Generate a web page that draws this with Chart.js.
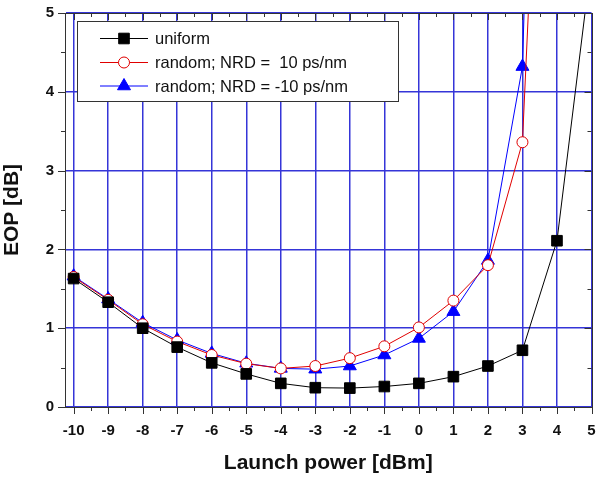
<!DOCTYPE html>
<html>
<head>
<meta charset="utf-8">
<script src="https://cdn.jsdelivr.net/npm/chart.js@4.4.1/dist/chart.umd.min.js"></script>
<style>
html,body{margin:0;padding:0;background:#fff;}
#wrap{position:relative;width:600px;height:482px;}
</style>
</head>
<body>
<div id="wrap"><canvas id="c"></canvas></div>
<script>
// ---- data ----
const launchPower = [-10,-9,-8,-7,-6,-5,-4,-3,-2,-1,0,1,2,3,4,5];
const uniformEOP  = [1.63,1.33,1.00,0.76,0.56,0.42,0.30,0.245,0.24,0.26,0.30,0.385,0.52,0.72,2.11,5.67];
const randomPosEOP = [1.65,1.36,1.05,0.83,0.66,0.55,0.49,0.52,0.62,0.77,1.01,1.35,1.80,3.36,13,null];
const randomNegEOP = [1.66,1.37,1.07,0.85,0.68,0.555,0.49,0.48,0.52,0.66,0.87,1.21,1.86,4.32,19,null];
const seriesLabels = ['uniform','random; NRD =  10 ps/nm','random; NRD = -10 ps/nm'];
const xTickValues = [-10,-9,-8,-7,-6,-5,-4,-3,-2,-1,0,1,2,3,4,5];
const yTickValues = [0,1,2,3,4,5];
const xTitle = 'Launch power [dBm]';
const yTitle = 'EOP [dB]';

const FONT = '"Liberation Sans", Arial, sans-serif';
const GRID = '#3535d8';
const FRAME = '#333333';

function pts(arr){ return launchPower.map((x,i)=>({x:x,y:arr[i]})); }

const framePlugin = {
  id:'frame',
  afterDatasetsDraw(chart){
    const {ctx, chartArea:a, scales:{x,y}} = chart;
    ctx.save();
    ctx.strokeStyle = FRAME; ctx.lineWidth = 1;
    ctx.beginPath();
    for (let i=0;i<xTickValues.length;i++){
      const v = xTickValues[i];
      const vals = [v]; if (i < xTickValues.length-1) vals.push((v + xTickValues[i+1])/2);
      vals.forEach((t,k)=>{
        const px = Math.round(x.getPixelForValue(t))+0.5;
        const len = k===0 ? 7 : 4;
        ctx.moveTo(px, a.bottom); ctx.lineTo(px, a.bottom+len);
        ctx.moveTo(px, a.top); ctx.lineTo(px, a.top+len);
      });
    }
    for (let i=0;i<yTickValues.length;i++){
      const v = yTickValues[i];
      const vals = [v]; if (i < yTickValues.length-1) vals.push((v + yTickValues[i+1])/2);
      vals.forEach((t,k)=>{
        const py = Math.round(y.getPixelForValue(t))+0.5;
        const len = k===0 ? 7 : 4;
        ctx.moveTo(a.left, py); ctx.lineTo(a.left-len, py);
        ctx.moveTo(a.right, py); ctx.lineTo(a.right-len, py);
      });
    }
    ctx.stroke();
    ctx.strokeRect(Math.round(a.left)+0.5, Math.round(a.top)+0.5, Math.round(a.right-a.left), Math.round(a.bottom-a.top));
    // legend
    const bx = 77.5, by = 21.5, bw = 321, bh = 80;
    ctx.fillStyle = '#fff';
    ctx.fillRect(bx, by, bw, bh);
    ctx.strokeStyle = FRAME;
    ctx.strokeRect(bx, by, bw, bh);
    const rows = [38.5, 62.5, 86];
    chart.data.datasets.forEach((ds,i)=>{
      const ry = rows[i];
      ctx.strokeStyle = ds.borderColor; ctx.lineWidth = 1;
      ctx.beginPath(); ctx.moveTo(100, ry); ctx.lineTo(148, ry); ctx.stroke();
      ctx.fillStyle = ds.pointBackgroundColor; ctx.strokeStyle = ds.pointBorderColor;
      Chart.helpers.drawPoint(ctx, {pointStyle: ds.pointStyle, radius: ds.pointRadius, rotation:0, borderWidth: 1}, 124, ry);
      ctx.fillStyle = '#111';
      ctx.font = '16.5px ' + FONT;
      ctx.textBaseline = 'middle'; ctx.textAlign = 'left';
      ctx.fillText(ds.label, 155, ry+1);
    });
    ctx.restore();
  }
};

new Chart(document.getElementById('c'), {
  type:'line',
  data:{
    datasets:[
      {label:seriesLabels[0], data:pts(uniformEOP), borderColor:'#000', borderWidth:1,
       pointStyle:'rect', pointRadius:7.5, pointBackgroundColor:'#000', pointBorderColor:'#000', pointBorderWidth:1},
      {label:seriesLabels[1], data:pts(randomPosEOP), borderColor:'#e00000', borderWidth:1,
       pointStyle:'circle', pointRadius:5.5, pointBackgroundColor:'#fff', pointBorderColor:'#e00000', pointBorderWidth:1},
      {label:seriesLabels[2], data:pts(randomNegEOP), borderColor:'#0000ff', borderWidth:1,
       pointStyle:'triangle', pointRadius:7.5, pointBackgroundColor:'#0000ff', pointBorderColor:'#0000ff', pointBorderWidth:1}
    ]
  },
  options:{
    responsive:true, maintainAspectRatio:false, animation:false,
    layout:{padding:{top:13, right:5, left:0, bottom:0}},
    plugins:{legend:{display:false}, tooltip:{enabled:false}},
    elements:{line:{tension:0}},
    scales:{
      x:{type:'linear', min:-10.25, max:5,
        afterBuildTicks(s){ s.ticks = xTickValues.map(v=>({value:v})); },
        afterFit(s){ s.height = 75; s.paddingLeft = 0; s.paddingRight = 0; },
        grid:{color:GRID, lineWidth:1.5, drawTicks:false},
        border:{display:true, color:FRAME},
        ticks:{padding:15, color:'#111', font:{family:FONT, size:15, weight:'bold'}, maxRotation:0, autoSkip:false},
        title:{display:true, text:xTitle, color:'#111', font:{family:FONT, size:21, weight:'bold'}, padding:{top:0,bottom:6}}
      },
      y:{type:'linear', min:0, max:5,
        afterBuildTicks(s){ s.ticks = yTickValues.map(v=>({value:v})); },
        afterFit(s){ s.width = 65; s.paddingTop = 0; s.paddingBottom = 0; },
        grid:{color:GRID, lineWidth:1.5, drawTicks:false},
        border:{display:true, color:FRAME},
        ticks:{padding:11, color:'#111', font:{family:FONT, size:15, weight:'bold'}},
        title:{display:true, text:yTitle, color:'#111', font:{family:FONT, size:21, weight:'bold'}, padding:{top:0,bottom:0}}
      }
    }
  },
  plugins:[framePlugin]
});
</script>
</body>
</html>
